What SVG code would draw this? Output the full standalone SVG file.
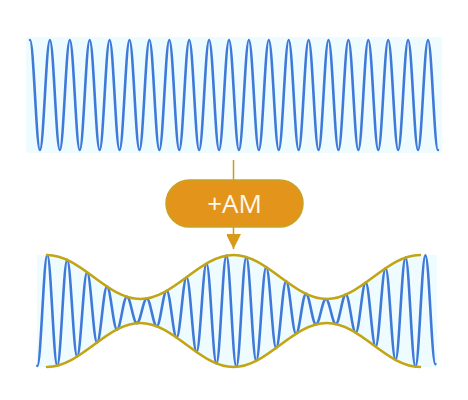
<svg xmlns="http://www.w3.org/2000/svg" width="468" height="400" viewBox="0 0 468 400">
  <style>
    .wave { fill: none; stroke: #3f7ad9; stroke-width: 2.6; stroke-linejoin: round; stroke-linecap: round; }
    .env { fill: none; stroke: #c2a514; stroke-width: 2.6; stroke-linecap: round; }
    .halo { fill: #effcff; stroke: none; }
    .conn { stroke: #d4951c; stroke-width: 1.5; fill: none; }
    .box { fill: #e3941a; stroke: #c9a224; stroke-width: 1.5; }
    .label { font-family: "Open Sans", "Liberation Sans", sans-serif; font-size: 26px; fill: #fff8ec; text-anchor: middle; }
  </style>
  <defs>
    <marker id="arrow" markerUnits="userSpaceOnUse" markerWidth="16" markerHeight="14" refX="15" refY="7.5" orient="auto">
      <path d="M0,0 L15,7.5 L0,15 Z" fill="#d99a1a"/>
    </marker>
  </defs>
  <rect width="468" height="400" fill="#ffffff"/>

  <g id="carrier">
    <rect class="halo" x="26" y="37" width="416" height="116"/>
    <path class="wave" d="M30,40 c3.62,0 6.33,110 9.95,110 s6.33,-110 9.95,-110 s6.33,110 9.95,110 s6.33,-110 9.95,-110 s6.33,110 9.95,110 s6.33,-110 9.95,-110 s6.33,110 9.95,110 s6.33,-110 9.95,-110 s6.33,110 9.95,110 s6.33,-110 9.95,-110 s6.33,110 9.95,110 s6.33,-110 9.95,-110 s6.33,110 9.95,110 s6.33,-110 9.95,-110 s6.33,110 9.95,110 s6.33,-110 9.95,-110 s6.33,110 9.95,110 s6.33,-110 9.95,-110 s6.33,110 9.95,110 s6.33,-110 9.95,-110 s6.33,110 9.95,110 s6.33,-110 9.95,-110 s6.33,110 9.95,110 s6.33,-110 9.95,-110 s6.33,110 9.95,110 s6.33,-110 9.95,-110 s6.33,110 9.95,110 s6.33,-110 9.95,-110 s6.33,110 9.95,110 s6.33,-110 9.95,-110 s6.33,110 9.95,110 s6.33,-110 9.95,-110 s6.33,110 9.95,110 s6.33,-110 9.95,-110 s6.33,110 9.95,110 s6.33,-110 9.95,-110 s6.33,110 9.95,110 s6.33,-110 9.95,-110 s6.33,110 9.95,110 s6.33,-110 9.95,-110 s6.33,110 9.95,110"/>
  </g>

  <g id="connectors">
    <line class="conn" x1="233.5" y1="160" x2="233.5" y2="249" marker-end="url(#arrow)"/>
  </g>

  <g id="am-node">
    <rect class="box" x="166" y="180" width="137" height="47" rx="23.5" ry="23.5"/>
    <text class="label" x="234.5" y="212.5">+AM</text>
  </g>

  <g id="modulated">
    <path class="halo" d="M37,255 L47,255 C80.94,255 106.31,299 140.25,299 S199.56,255 233.5,255 S292.81,299 326.75,299 S386.06,255 420,255 L437,255 L437,367 L420,367 C386.06,367 360.69,323 326.75,323 S267.44,367 233.5,367 S174.19,323 140.25,323 S80.94,367 47,367 L37,367 Z"/>
    <path class="wave" d="M37.35,365.85 C40.97,365.85 43.68,255 47.3,255 S53.63,365.7 57.25,365.7 S63.58,259.9 67.2,259.9 S73.53,356.6 77.15,356.6 S83.48,272.2 87.1,272.2 S93.43,342.47 97.05,342.47 S103.38,286.58 107,286.58 S113.33,329.43 116.95,329.43 S123.28,296.82 126.9,296.82 S133.23,323.14 136.85,323.14 S143.18,298.47 146.8,298.47 S153.13,326.3 156.75,326.3 S163.08,290.8 166.7,290.8 S173.03,337.56 176.65,337.56 S182.98,277.2 186.6,277.2 S192.93,352.04 196.55,352.04 S202.88,263.48 206.5,263.48 S212.83,363.45 216.45,363.45 S222.78,255.63 226.4,255.63 S232.73,366.9 236.35,366.9 S242.68,257.01 246.3,257.01 S252.63,360.85 256.25,360.85 S262.58,267.05 266.2,267.05 S272.53,347.94 276.15,347.94 S282.48,281.39 286.1,281.39 S292.43,333.75 296.05,333.75 S302.38,293.85 306,293.85 S312.33,324.42 315.95,324.42 S322.28,298.99 325.9,298.99 S332.23,324.02 335.85,324.02 S342.18,294.63 345.8,294.63 S352.13,332.69 355.75,332.69 S362.08,282.65 365.7,282.65 S372.03,346.68 375.65,346.68 S381.98,268.2 385.6,268.2 S391.93,359.92 395.55,359.92 S401.88,257.58 405.5,257.58 S411.83,366.74 415.45,366.74 S421.78,255.37 425.4,255.37 S431.73,364.12 435.35,364.12"/>
    <path class="env" d="M47,255 C80.94,255 106.31,299 140.25,299 S199.56,255 233.5,255 S292.81,299 326.75,299 S386.06,255 420,255"/>
    <path class="env" d="M47,367 C80.94,367 106.31,323 140.25,323 S199.56,367 233.5,367 S292.81,323 326.75,323 S386.06,367 420,367"/>
  </g>
</svg>
